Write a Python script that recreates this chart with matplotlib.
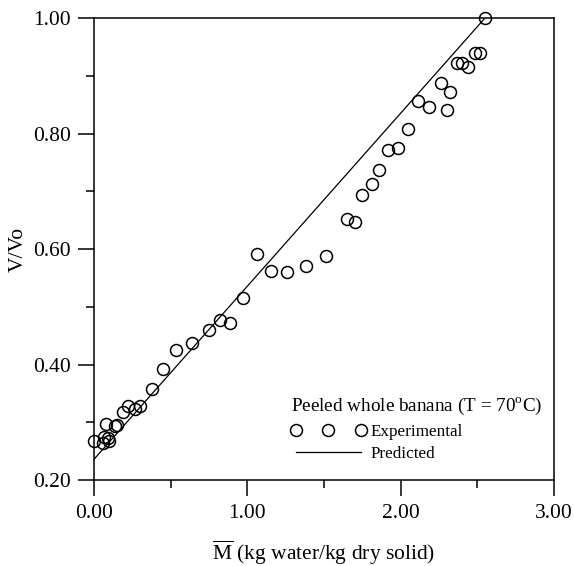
import matplotlib
matplotlib.use("Agg")
import matplotlib.pyplot as plt
from matplotlib.ticker import MultipleLocator, FormatStrFormatter

plt.rcParams['font.family'] = ['Liberation Serif', 'DejaVu Serif']
plt.rcParams['mathtext.fontset'] = 'custom'
plt.rcParams['mathtext.rm'] = 'Liberation Serif'

# experimental points
moisture = [0.00, 0.06, 0.065, 0.08, 0.09, 0.10, 0.14, 0.15, 0.19, 0.22, 0.27, 0.30,
            0.38, 0.45, 0.535, 0.64, 0.75, 0.82, 0.89, 0.97, 1.06, 1.155, 1.26, 1.38,
            1.51, 1.65, 1.70, 1.75, 1.81, 1.86, 1.92, 1.98, 2.05, 2.11, 2.185, 2.26,
            2.30, 2.32, 2.37, 2.40, 2.44, 2.485, 2.52, 2.55]
volume = [0.268, 0.264, 0.274, 0.297, 0.272, 0.268, 0.293, 0.295, 0.317, 0.329, 0.323, 0.329,
          0.358, 0.392, 0.425, 0.437, 0.460, 0.477, 0.472, 0.515, 0.591, 0.562, 0.560, 0.571,
          0.588, 0.652, 0.647, 0.694, 0.713, 0.737, 0.771, 0.775, 0.808, 0.856, 0.846, 0.887,
          0.841, 0.872, 0.922, 0.922, 0.915, 0.939, 0.939, 1.000]

# predicted (linear model)
pred_m = [0.0, 2.55]
pred_v = [0.236, 1.0]

fig = plt.figure(figsize=(5.74, 5.66), dpi=100)
ax = fig.add_axes([0.1638, 0.1519, 0.8014, 0.8163])

ax.plot(moisture, volume, 'o', mfc='none', mec='black', ms=8.6, mew=1.1,
        label='Experimental', clip_on=False)
ax.plot(pred_m, pred_v, '-', color='black', lw=0.9, label='Predicted')

ax.set_xlim(0, 3)
ax.set_ylim(0.2, 1.0)
ax.xaxis.set_major_locator(MultipleLocator(1.0))
ax.xaxis.set_minor_locator(MultipleLocator(0.5))
ax.yaxis.set_major_locator(MultipleLocator(0.2))
ax.yaxis.set_minor_locator(MultipleLocator(0.1))
ax.xaxis.set_major_formatter(FormatStrFormatter('%.2f'))
ax.yaxis.set_major_formatter(FormatStrFormatter('%.2f'))
ax.tick_params(which='major', direction='out', length=11.5, width=1.1, labelsize=15.5)
ax.tick_params(which='minor', direction='out', length=5.5, width=1.1)
ax.tick_params(axis='x', which='major', pad=6)
ax.tick_params(axis='y', which='major', pad=5)
for s in ax.spines.values():
    s.set_linewidth(1.1)

ax.set_xlabel(r'$\overline{\mathrm{M}}$ (kg water/kg dry solid)', fontsize=15.5, labelpad=11)
ax.set_ylabel('V/Vo', fontsize=15.5, labelpad=4)

leg = ax.legend(loc='lower right', bbox_to_anchor=(1.0, 0.013), frameon=False,
                numpoints=3, fontsize=12.3, handlelength=4.4, handletextpad=0.3,
                labelspacing=0.38, borderaxespad=0.3,
                title=r'Peeled whole banana (T = 70$^{\mathrm{o}}$C)',
                title_fontsize=13.8)
leg._legend_box.align = 'left'

fig.savefig('out.png', dpi=100)
